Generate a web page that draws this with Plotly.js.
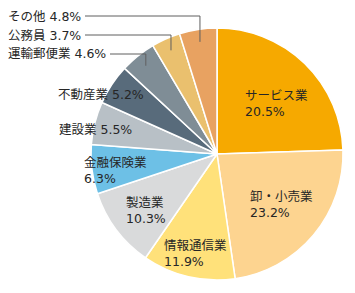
<!DOCTYPE html>
<html>
<head>
<meta charset="utf-8">
<script src="https://cdn.plot.ly/plotly-3.0.1.min.js"></script>
<style>html,body{margin:0;padding:0;background:#fff;}#chart{width:355px;height:293px;}</style>
</head>
<body>
<div id="chart"></div>
<script>
// Categories, clockwise from 12 o'clock
const categories = ["サービス業","卸・小売業","情報通信業","製造業","金融保険業","建設業","不動産業","運輸郵便業","公務員","その他"];
// Slice sizes as drawn in the picture (%)
const shares = [24.5, 23.2, 11.9, 10.3, 6.3, 5.5, 5.2, 4.6, 3.7, 4.8];
// Percentage labels as printed on the picture
const shownPct = ["20.5%","23.2%","11.9%","10.3%","6.3%","5.5%","5.2%","4.6%","3.7%","4.8%"];
const colors = ["#F6A900","#FDD490","#FFE17A","#D9DADB","#6DC0E6","#B8C0C6","#586B7B","#7F8D96","#EAC06E","#E8A261"];

const W = 355, H = 293;
const cx = 217, cy = 154, R = 126;
const px = x => x / W, py = y => 1 - y / H;

// label placement (layout)
const labelPos = {
  "サービス業": {x: 243, y: 104, two: true},
  "卸・小売業": {x: 248, y: 204, two: true},
  "情報通信業": {x: 162, y: 253, two: true},
  "製造業": {x: 124, y: 210, two: true},
  "金融保険業": {x: 82, y: 170, two: true},
  "建設業": {x: 134, y: 130, two: false},
  "不動産業": {x: 146, y: 95, two: false},
  "運輸郵便業": {x: 108, y: 54, two: false, lead: true},
  "公務員": {x: 83, y: 35, two: false, lead: true},
  "その他": {x: 83, y: 16, two: false, lead: true}
};

const font = {family: "DejaVu Sans, 'Noto Sans CJK JP', sans-serif", size: 12.5, color: "#262626"};
const annotations = [];
const shapes = [];
const total = shares.reduce((a, b) => a + b, 0);
let cum = 0;
categories.forEach((c, i) => {
  const mid = (cum + shares[i] / 2) / total * 2 * Math.PI;
  cum += shares[i];
  const p = labelPos[c];
  if (p.two) {
    annotations.push({x: px(p.x), y: py(p.y), xref: "paper", yref: "paper", xanchor: "left", yanchor: "middle",
      align: "left", showarrow: false, text: c + "<br>" + shownPct[i], font: font});
  } else {
    annotations.push({x: px(p.x), y: py(p.y), xref: "paper", yref: "paper", xanchor: "right", yanchor: "middle",
      align: "right", showarrow: false, text: c + " " + shownPct[i], font: font});
  }
  if (p.lead) {
    const ex = cx + 0.9 * R * Math.sin(mid);
    const ey = cy - 0.9 * R * Math.cos(mid);
    shapes.push({type: "path", xref: "paper", yref: "paper",
      path: `M ${px(p.x + 2)} ${py(p.y)} L ${px(ex)} ${py(p.y)} L ${px(ex)} ${py(ey)}`,
      line: {color: "#5f5f5f", width: 1}});
  }
});

const data = [{
  type: "pie",
  labels: categories,
  values: shares,
  sort: false,
  direction: "clockwise",
  rotation: 0,
  marker: {colors: colors, line: {color: "#ffffff", width: 1.5}},
  textinfo: "none",
  hoverinfo: "none",
  showlegend: false,
  domain: {x: [px(cx - R), px(cx + R)], y: [py(cy + R), py(cy - R)]}
}];

const layout = {
  width: W, height: H,
  margin: {l: 0, r: 0, t: 0, b: 0},
  paper_bgcolor: "#ffffff",
  showlegend: false,
  annotations: annotations,
  shapes: shapes
};

Plotly.newPlot("chart", data, layout, {displayModeBar: false, staticPlot: true});
</script>
</body>
</html>
